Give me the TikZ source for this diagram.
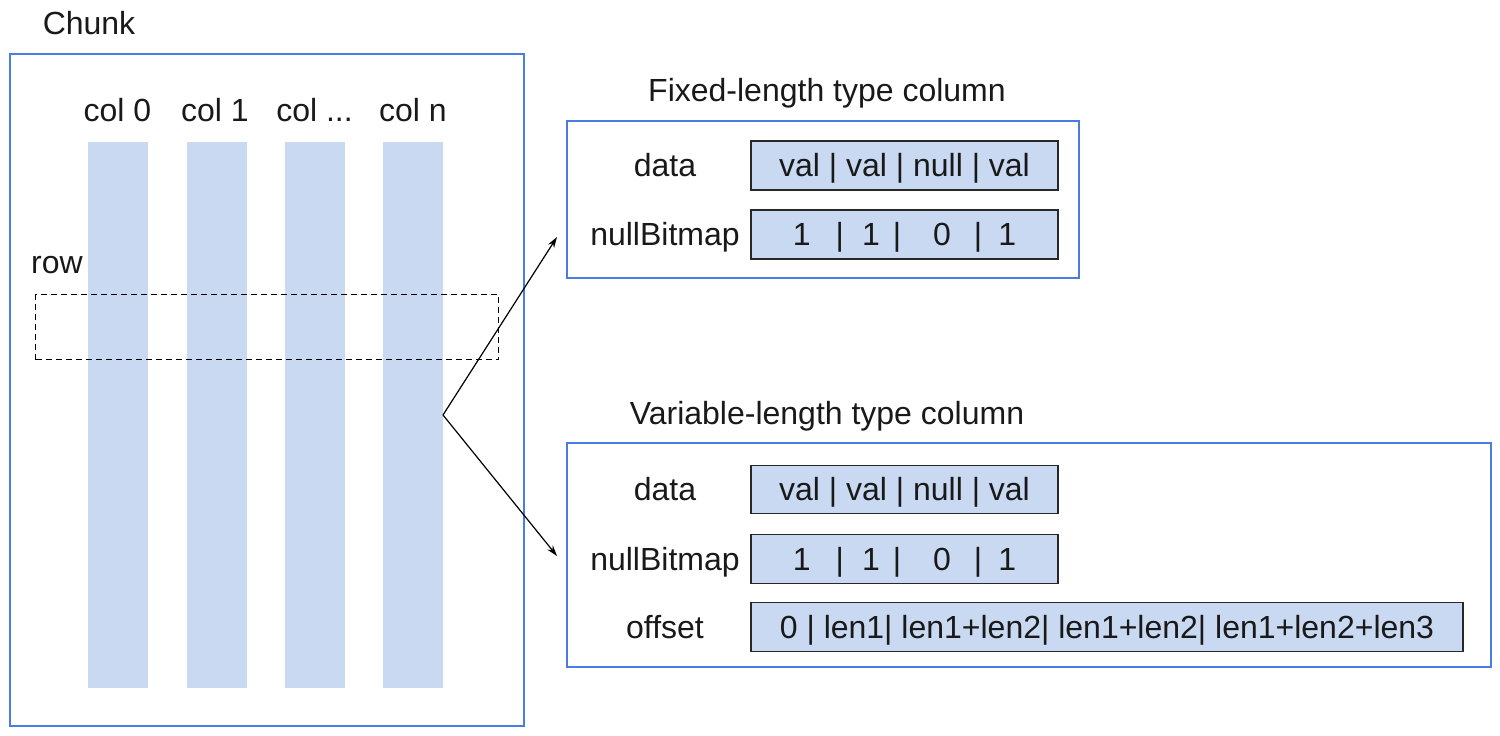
\documentclass[tikz,border=0pt]{standalone}
\usepackage{fontspec}
\setmainfont{Liberation Sans}
\usetikzlibrary{arrows.meta}
\definecolor{bluebox}{RGB}{74,125,225}
\definecolor{barfill}{RGB}{201,217,242}
\definecolor{cellline}{RGB}{40,40,40}
\definecolor{txt}{RGB}{25,25,25}
\newcommand{\bitrow}{1\hspace{25pt}|\hspace{18pt}1\hspace{13pt}|\hspace{32pt}0\hspace{23pt}|\hspace{16pt}1}
\begin{document}
\begin{tikzpicture}[x=1pt,y=-1pt,
  txtstyle/.style={font=\fontsize{32}{38}\selectfont, text=txt, inner sep=0pt, text height=22.9pt, text depth=0pt},
  outerbox/.style={draw=bluebox, line width=1.5pt, rectangle, inner sep=0pt},
  bar/.style={fill=barfill, draw=none, rectangle, inner sep=0pt, minimum width=60pt, minimum height=546pt},
  cell/.style={txtstyle, draw=cellline, fill=barfill, line width=1.8pt, rectangle, minimum height=49pt},
  rowbox/.style={draw=black, dashed, dash pattern=on 6pt off 4pt, line width=1.1pt, rectangle, inner sep=0pt},
  conn/.style={draw=black, line width=1.2pt, -{Stealth[length=11pt,width=7pt]}}
]
\useasboundingbox (0,0) rectangle (1500,736);

% Chunk
\node[txtstyle] (chunklbl) at (89,23.5) {Chunk};
\node[outerbox, minimum width=514pt, minimum height=672pt] (chunk) at (267,390) {};

\node[bar] (b0) at (118,415) {};
\node[bar] (b1) at (216.5,415) {};
\node[bar] (b2) at (315,415) {};
\node[bar] (b3) at (413,415) {};

\node[txtstyle] (c0) at (117.5,110.5) {col 0};
\node[txtstyle] (c1) at (215,110.5) {col 1};
\node[txtstyle] (c2) at (314.5,110.5) {col ...};
\node[txtstyle] (c3) at (413,110.5) {col n};

\node[txtstyle] (rowlbl) at (57,262.5) {row};
\node[rowbox, minimum width=463pt, minimum height=65pt] (row) at (267.25,327) {};

% Fixed-length
\node[txtstyle] (ftitle) at (827,90.5) {Fixed-length type column};
\node[outerbox, minimum width=512pt, minimum height=157pt] (fbox) at (823,199.5) {};
\node[txtstyle] (fdl) at (665,165.5) {data};
\node[cell, minimum width=307pt] (fdata) at (904.5,165.5) {val | val | null | val};
\node[txtstyle] (fnl) at (665,234.5) {nullBitmap};
\node[cell, minimum width=307pt] (fnull) at (904.5,234.5) {\bitrow};

% Variable-length
\node[txtstyle] (vtitle) at (827,413.5) {Variable-length type column};
\node[outerbox, minimum width=924pt, minimum height=224pt] (vbox) at (1029,555) {};
\node[txtstyle] (vdl) at (665,489.5) {data};
\node[cell, minimum width=307pt, minimum height=48pt] (vdata) at (904.5,489.5) {val | val | null | val};
\node[txtstyle] (vnl) at (665,559) {nullBitmap};
\node[cell, minimum width=307pt] (vnull) at (904.5,559) {\bitrow};
\node[txtstyle] (vol) at (665,627) {offset};
\node[cell, minimum width=712pt] (voff) at (1107,627) {0 | len1| len1+len2| len1+len2| len1+len2+len3};

% connectors
\coordinate (src) at (443,415);
\coordinate (fend) at (557,237);
\coordinate (vend) at (557,556);
\draw[conn] (src) -- (fend);
\draw[conn] (src) -- (vend);
\end{tikzpicture}
\end{document}
